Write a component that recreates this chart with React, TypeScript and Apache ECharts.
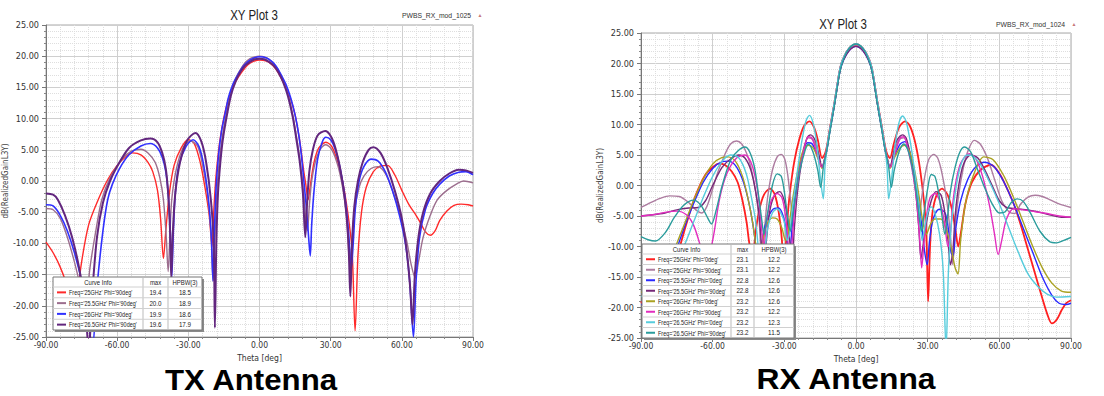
import React, { useEffect, useRef } from "react";
import * as echarts from "echarts";

// ---------- TX data (theta deg, dB) ----------
const txRed: [number, number][] = [[-90,-9.8],[-87,-11.5],[-84,-13.8],[-81,-17],[-79,-21],[-78,-22.5],[-77,-19],[-75,-13],[-72,-7],[-68,-3],[-64,0.2],[-60,2.5],[-56,4.0],[-53.5,4.5],[-50,4.2],[-47,3.0],[-45,1.5],[-43,-1.5],[-41.7,-6],[-40.5,-12.4],[-39.5,-8],[-38,-2],[-36,2.5],[-33,5.3],[-30,6.6],[-27.5,6.0],[-25,3.0],[-23,-1],[-21.2,-5.5],[-20,-10.5],[-19.3,-5],[-18.5,0],[-17.5,4],[-16.5,7],[-15,10.2],[-13,13.3],[-11,15.3],[-9,16.6],[-7,17.7],[-5,18.6],[-3,19.1],[0,19.4],[3,19.2],[5,18.7],[7,17.9],[9,16.6],[11,15.1],[13,13.3],[15,10.6],[16.5,7.5],[17.5,5],[18.5,2],[19.5,-0.5],[20.5,-3],[21.5,-0.5],[23,3],[25,5.3],[28,6.2],[30.5,5.5],[33,3.0],[35,0],[37,-4.5],[39,-11],[40.3,-24],[41.5,-12],[43,-5],[45,-1],[48,1.5],[51,2.4],[54,2.5],[57,1.0],[60,-1.5],[63,-3.8],[66,-5.5],[68,-6.8],[70,-8.2],[72,-8.7],[74,-8.0],[76,-6.3],[79,-4.8],[82,-3.9],[85,-3.7],[88,-3.8],[90,-4.0]];
const txMauve: [number, number][] = [[-90,-4.4],[-87,-4.6],[-84,-6],[-81,-9],[-78,-13],[-75.5,-17],[-73.5,-21],[-71.5,-14],[-69,-8],[-66.5,-3],[-63,0.5],[-58,3.5],[-54,4.8],[-50,5.1],[-47,4.5],[-44,3],[-42,0.5],[-40.5,-3],[-39.3,-9],[-38.5,-14.5],[-37.8,-9],[-37,-3],[-35,2],[-32,5.5],[-29,6.4],[-26,5.5],[-24,2.5],[-22,-2],[-20.5,-8],[-19.6,-16],[-18.8,-9],[-18,-2],[-17,3],[-15.5,7.5],[-14,10.8],[-12,14.3],[-10,16.5],[-8,17.9],[-6,19.0],[-4,19.6],[-2,19.9],[0,20.0],[2,19.9],[4,19.5],[6,18.8],[8,17.7],[10,16.1],[12,13.9],[14,10.6],[15.5,7.3],[17,3.5],[18.5,-1.5],[19.5,-6],[20.2,-8],[21,-4],[22,0],[23.5,3],[25.5,5],[28,5.8],[30.5,5.0],[33,2.5],[35,-1],[36.8,-6],[38,-13],[39,-10],[40,-5],[42,-1],[44,0.8],[47,2],[50,2.3],[53,1.2],[56,-1.5],[59,-5],[62,-9.5],[64,-13.5],[65.6,-15.5],[67,-13],[69,-9],[72,-5.5],[75,-3],[79,-1.5],[83,-0.5],[86,0],[90,-0.3]];
const txBlue: [number, number][] = [[-90,-3.8],[-87,-4.0],[-84,-5.5],[-81,-8],[-78,-11.5],[-75,-16],[-72.5,-21],[-70.5,-27],[-68.5,-17],[-66,-8],[-64,-3],[-62,-0.5],[-59,2],[-55,4.2],[-50,5.6],[-46,6.0],[-43,5.3],[-41,3.8],[-39.5,1.5],[-38.5,-2],[-37.6,-8],[-37,-15.5],[-36.3,-8],[-35.5,-2],[-34,2.5],[-31,5.5],[-28,6.6],[-25.5,5.5],[-23.5,2.5],[-21.5,-3],[-20.3,-9],[-19.6,-16],[-19,-8],[-18.3,-1],[-17.3,4],[-16,8],[-14.5,10.8],[-13,13.5],[-11,15.7],[-9,17.1],[-7,18.3],[-5,19.1],[-3,19.6],[0,19.9],[3,19.7],[5,19.2],[7,18.4],[9,17.1],[11,15.6],[13,13.5],[15,10.6],[16.5,7.5],[17.7,4],[18.7,0],[19.7,-4],[20.7,-9],[21.4,-12],[22,-7],[23,-1.5],[24.5,3.5],[26.5,6.3],[28,7.0],[30,6.6],[32,5],[34,2],[36,-2.5],[37.5,-8],[38.7,-14],[39.5,-10],[40.5,-4],[42,0],[44,2.3],[47,3.5],[50,3.2],[53,1.5],[56,-1.5],[59,-5.5],[61.5,-10],[63.3,-16],[64.9,-25],[66,-16],[67.5,-9],[70,-4.5],[73,-2],[76,-0.5],[80,0.8],[84,1.4],[87,1.5],[90,1.0]];
const txPurple: [number, number][] = [[-90,-2.0],[-87,-2.2],[-85,-3.0],[-82,-5.5],[-79,-9],[-76,-14],[-73.5,-20],[-72,-27],[-70.5,-18],[-68.5,-9],[-66,-3.5],[-63,0],[-59,3],[-55,5.3],[-50,6.5],[-46,6.8],[-43,6.2],[-41,4.5],[-39.5,2],[-38.5,-2],[-37.7,-8],[-37.2,-15.5],[-36.5,-8],[-35.5,-2],[-33.5,3],[-30.5,6.5],[-27,7.7],[-24.5,6.3],[-22.5,3],[-20.5,-3],[-19.3,-10],[-18.8,-23.5],[-18.2,-10],[-17.5,-2],[-16.5,3],[-15.5,6.5],[-14,10],[-12,13.8],[-10,16.0],[-8,17.5],[-6,18.5],[-4,19.1],[-2,19.5],[0,19.6],[2,19.5],[4,19.1],[6,18.5],[8,17.4],[10,15.8],[12,13.6],[14,10.3],[15.5,6.8],[17,3],[18.3,-2],[19.3,-9],[20,-4],[21,1.5],[22.5,5],[24.5,7.3],[27.7,8.0],[30,7.2],[32,5.3],[34,2],[36,-3],[37.5,-10],[38.3,-18.5],[39,-10],[40,-4],[41.5,0],[43.5,3],[46,5],[48,5.4],[51,4.5],[54,2],[57,-1.5],[60,-6],[62,-11],[63.5,-17],[64.5,-23],[65.5,-15],[67,-9],[69,-5],[72,-2],[76,0],[80,1.2],[84,1.8],[87,1.7],[90,1.3]];

// ---------- RX data (theta deg, dB) ----------
const rxRed: [number, number][] = [[-90,-19],[-86,-21.5],[-82,-22],[-79,-18.5],[-76,-13.5],[-73,-9],[-70,-5],[-67,-1.5],[-63,1.8],[-60,3.0],[-57.5,3.6],[-55,3.4],[-52,2.3],[-49.5,0.5],[-47.5,-2.5],[-45.8,-6],[-44.5,-9.8],[-43.2,-11],[-42,-7.5],[-40.5,-4],[-38.5,-1.5],[-36,-0.5],[-34,-1.5],[-32.3,-4.5],[-31,-9],[-30.2,-18],[-29.4,-10],[-28.4,-4],[-27.3,0],[-25.8,4],[-23.8,7.5],[-21.7,9.8],[-19.5,10.5],[-17.5,9.5],[-16,7.5],[-14.2,4.5],[-13,5.2],[-12,6.8],[-11,9.2],[-10,11.4],[-9,13.6],[-8,16.0],[-7,18.4],[-6,20.1],[-4,21.8],[-2,22.75],[0,23.1],[2,22.75],[4,21.8],[6,20.1],[7,18.4],[8,16.0],[9,13.6],[10,11.4],[11,9.2],[12,6.8],[13,5.2],[14.2,4.5],[15.8,6.8],[18,9.5],[20.5,10.5],[22.5,9.8],[24.5,7.5],[26.3,4],[27.7,0],[28.8,-4],[29.6,-10],[30.2,-19],[31,-10],[32,-4.5],[33.8,-1.5],[36,-0.5],[38.3,-1.5],[40.2,-4],[41.7,-7.5],[42.8,-10],[44,-7.5],[45.8,-3],[48.5,0.5],[52,2.5],[56.5,3.4],[60,2.0],[63,-0.3],[66,-3.0],[69,-6.5],[72,-10.5],[75,-14.5],[78,-18.5],[80,-21],[82,-22.6],[84,-22],[86,-20.5],[88,-19.3],[90,-18.8]];
const rxMauve: [number, number][] = [[-90,-3.6],[-86,-2.8],[-82,-2.1],[-78,-1.7],[-74,-1.8],[-70,-2.8],[-67,-4.0],[-64.5,-4.5],[-62.5,-3.5],[-60.5,-1.2],[-58,2.0],[-55,5.0],[-52.5,6.8],[-50,7.3],[-47.8,6.8],[-45.8,5.3],[-44,3.0],[-42,-1.0],[-40.5,-6],[-39.5,-12],[-38.5,-8],[-37,-2],[-35,2.5],[-33,4.7],[-31.3,5.1],[-29.8,4.3],[-28.5,1.5],[-27.5,-2],[-26.5,-5],[-25.5,-2],[-24,2.5],[-22,6.0],[-20,7.8],[-18,7.5],[-16,5.5],[-14.2,3.0],[-13,4.6],[-12,6.6],[-11,9.1],[-10,11.3],[-9,13.6],[-8,16.1],[-7,18.5],[-6,20.1],[-4,21.8],[-2,22.75],[0,23.1],[2,22.75],[4,21.8],[6,20.1],[7,18.5],[8,16.1],[9,13.6],[10,11.3],[11,9.1],[12,6.6],[13,4.6],[14.2,3.0],[16,5.5],[18,7.5],[20,7.8],[22,6.0],[24,2.5],[25.5,-2],[26.5,-5],[27.5,-2],[28.8,1.5],[30.5,4.3],[32.5,5.1],[34.2,4.5],[36,2.0],[38,-2.5],[39.5,-8],[40.5,-13],[41.5,-7],[43,-1.5],[45,3.0],[47,5.8],[49.5,7.4],[52,6.8],[55,4.5],[58,1.0],[61,-2.5],[64,-4.3],[66.5,-4.6],[69,-3.0],[72,-1.9],[75,-1.6],[78,-1.8],[81,-2.3],[85,-3.0],[90,-3.6]];
const rxBlue: [number, number][] = [[-90,-19.5],[-85,-19],[-80,-16],[-76,-11.5],[-72,-7],[-68,-3],[-64,0.5],[-60,2.8],[-56,3.9],[-53.5,4.0],[-50.5,3.3],[-47.5,1.0],[-45.3,-2],[-43.3,-6],[-41.7,-10.5],[-40.6,-12.5],[-39.5,-10],[-38,-6.5],[-35,-4],[-32.5,-3.7],[-30.5,-5],[-29,-8],[-28,-13],[-27,-8],[-25.8,-3],[-24.3,1],[-22.3,5],[-20.3,7.0],[-18.3,6.8],[-16.3,5.0],[-14.3,3.0],[-13,4.3],[-12,6.3],[-11,8.8],[-10,11.0],[-9,13.3],[-8,15.8],[-7,18.2],[-6,19.8],[-4,21.5],[-2,22.45],[0,22.8],[2,22.45],[4,21.5],[6,19.8],[7,18.2],[8,15.8],[9,13.3],[10,11.0],[11,8.8],[12,6.3],[13,4.3],[14.3,3.0],[16.3,5.0],[18.5,6.8],[20.5,7.2],[22.5,5.5],[24.5,2.0],[26,-2],[27.5,-6.5],[28.8,-11],[29.8,-13],[30.8,-9],[32.3,-5.5],[34.8,-3.9],[37.3,-4.5],[38.8,-7.5],[39.8,-11],[40.7,-11.5],[41.8,-7],[43.8,-2.5],[46.8,1.0],[50,3.0],[54,3.8],[58,3.0],[62,0.5],[66,-3],[70,-7],[74,-11],[78,-15],[82,-18],[85,-19.3],[88,-19.5],[90,-19.3]];
const rxPurple: [number, number][] = [[-90,-5.0],[-85,-4.8],[-80,-4.5],[-75,-4.0],[-70,-3.7],[-66,-3.6],[-63,-2.5],[-60,0],[-56,3.0],[-52,4.5],[-49,5.0],[-46.5,4.5],[-44,2.5],[-42,-1.0],[-40.5,-5],[-39.3,-11],[-38.3,-13],[-37.5,-9],[-36,-4],[-34,-1.5],[-32,-1.0],[-30,-2.5],[-28.5,-6],[-27.5,-10],[-26.7,-12],[-25.8,-7],[-24.5,-1],[-22.5,4.5],[-20.5,7.8],[-19,8.3],[-17,7.3],[-15.5,5.0],[-14.2,3.0],[-13,4.3],[-12,6.3],[-11,8.8],[-10,11.0],[-9,13.3],[-8,15.8],[-7,18.2],[-6,19.8],[-4,21.5],[-2,22.45],[0,22.8],[2,22.45],[4,21.5],[6,19.8],[7,18.2],[8,15.8],[9,13.3],[10,11.0],[11,8.8],[12,6.3],[13,4.3],[14.2,3.0],[15.5,5.0],[17,7.3],[19.5,8.3],[21,7.8],[23,4.5],[25,-1],[26.3,-7],[27.2,-12],[28,-10],[29.5,-6],[31.5,-2.5],[33.5,-1.0],[35.5,-1.5],[37,-4],[38.5,-9],[39.5,-13],[40.5,-11],[41.5,-5],[43,0],[45,3.5],[48,5.0],[51,4.5],[54,2.5],[57,0],[60,-2.5],[63,-3.6],[67,-3.8],[72,-4.0],[77,-4.4],[82,-4.9],[86,-5.2],[90,-5.2]];
const rxOlive: [number, number][] = [[-90,-17.5],[-85,-17],[-80,-14.5],[-76,-10.5],[-72,-6.5],[-68,-2.5],[-64,1.0],[-60,3.5],[-56,4.6],[-53.5,4.7],[-50.5,4.0],[-47.5,1.5],[-45.3,-2],[-43.3,-6],[-41.7,-10.5],[-40.4,-14],[-39.3,-10],[-37.5,-6.5],[-35,-5.3],[-33,-5.5],[-31,-7],[-29.5,-9],[-28.5,-8],[-27.5,-5],[-26,-1],[-24,3],[-22,5.8],[-20,6.6],[-18,6.2],[-16,4.5],[-14.2,2.8],[-13,4.6],[-12,6.6],[-11,9.1],[-10,11.4],[-9,13.7],[-8,16.2],[-7,18.6],[-6,20.2],[-4,21.9],[-2,22.85],[0,23.2],[2,22.85],[4,21.9],[6,20.2],[7,18.6],[8,16.2],[9,13.7],[10,11.4],[11,9.1],[12,6.6],[13,4.6],[14.2,2.8],[16,4.5],[18.5,6.2],[20.5,6.6],[22.5,5.5],[24.5,2.5],[26.5,-2],[28,-6],[29.5,-8],[31,-6.5],[33,-5.5],[35.5,-5.5],[38,-7.5],[40,-10.5],[41.5,-13.5],[42.7,-14.5],[43.8,-9],[45.8,-3],[49,1.5],[53.5,4.7],[57.5,4.2],[62,1.5],[66,-2],[70,-6],[74,-10],[78,-13.5],[82,-16],[86,-17.3],[90,-17.5]];
const rxMagenta: [number, number][] = [[-90,-5.0],[-85,-4.8],[-80,-4.4],[-75,-4.2],[-71,-4.8],[-68,-6.5],[-65,-10],[-62.5,-12.5],[-60,-9],[-57,-2],[-54,2],[-50,4.5],[-46.5,5.0],[-44,3.8],[-42,1.0],[-40.5,-3],[-39.3,-8],[-38.5,-10],[-37.5,-6],[-35.5,-2.5],[-33,-1.3],[-31,-2.0],[-29.5,-5],[-28.3,-10],[-27.5,-13.5],[-26.7,-9],[-25.5,-3],[-24,1.5],[-22,5.5],[-20,8.0],[-18.5,7.8],[-16.5,5.5],[-14.3,3.0],[-13,4.6],[-12,6.6],[-11,9.1],[-10,11.4],[-9,13.7],[-8,16.2],[-7,18.6],[-6,20.2],[-4,21.9],[-2,22.85],[0,23.2],[2,22.85],[4,21.9],[6,20.2],[7,18.6],[8,16.2],[9,13.7],[10,11.4],[11,9.1],[12,6.6],[13,4.6],[14.3,3.0],[16.5,5.5],[18.5,7.8],[20,8.0],[22,5.5],[24,1.5],[25.5,-3],[26.7,-9],[27.5,-13.5],[28.3,-10],[29.5,-5],[31,-2.0],[33,-1.3],[35,-2.5],[37,-6],[38.5,-10],[39.5,-8],[40.5,-3],[42,1.0],[44,3.8],[47.5,5.2],[50,4.5],[53,1.5],[56,-3.5],[58,-8],[59.5,-11.3],[61,-9],[63,-5.5],[66,-3.8],[70,-4.0],[75,-4.3],[80,-4.6],[85,-5.0],[90,-5.2]];
const rxCyan: [number, number][] = [[-90,-18.2],[-85,-18],[-80,-16.5],[-76,-13.5],[-72,-10],[-68,-6],[-64,-2],[-60,1.5],[-56,4.0],[-52.5,5.0],[-49,4.5],[-46,2.0],[-44,-1.5],[-42,-6],[-40.5,-12],[-39.3,-18],[-38.3,-12],[-37,-7],[-35,-4.5],[-33,-3.8],[-31.5,-4.5],[-30,-6],[-28.8,-9],[-27.8,-8],[-26.7,-4],[-25,1],[-23,6.5],[-21,10.5],[-19.5,11.5],[-18,10.3],[-16.5,7],[-15,1.5],[-13.7,-2.2],[-13,3.0],[-12,6.6],[-11,9.1],[-10,11.4],[-9,13.7],[-8,16.2],[-7,18.6],[-6,20.2],[-4,21.9],[-2,22.85],[0,23.2],[2,22.85],[4,21.9],[6,20.2],[7,18.6],[8,16.2],[9,13.7],[10,11.4],[11,9.1],[12,6.6],[13,3.0],[13.7,-2.2],[15,1.5],[16.5,7],[18,10.3],[19.5,11.4],[21,10.5],[23,6.5],[25,1.0],[26.5,-4],[27.7,-9],[28.7,-7],[30,-4.5],[31.5,-3.5],[33,-4.5],[35,-8],[36.5,-14],[37.7,-27],[38.7,-14],[40,-6],[42,0],[44,3.5],[46.5,5.0],[49,4.8],[52,3.5],[56,0.5],[60,-3],[64,-7],[68,-11],[72,-14.5],[76,-16.5],[80,-17.8],[84,-18.3],[90,-18.2]];
const rxTeal: [number, number][] = [[-90,-8.4],[-87,-8.9],[-84,-9.1],[-80,-7.8],[-76,-5.2],[-72,-3.2],[-68,-2.4],[-65,-3.2],[-62.5,-5.0],[-60.5,-6.3],[-58.5,-4],[-56,0],[-52,4.5],[-46.5,6.3],[-44.5,5.5],[-42.5,3],[-41,-1],[-39.5,-5.5],[-38.5,-8],[-37.2,-5],[-35,0],[-33,1.9],[-31.3,1.5],[-30,-1],[-28.5,-5.5],[-27.5,-7.5],[-26.5,-5],[-25,-1],[-23.5,2.5],[-21.5,5.5],[-20,6.8],[-18,5.5],[-16,2.5],[-14.8,-0.3],[-13.5,3.5],[-12,6.2],[-11,8.6],[-10,10.9],[-9,13.2],[-8,15.7],[-7,18.1],[-6,19.8],[-4,21.8],[-2,22.85],[0,23.2],[2,22.85],[4,21.8],[6,19.8],[7,18.1],[8,15.7],[9,13.2],[10,10.9],[11,8.6],[12,6.2],[13.5,3.5],[14.8,-0.3],[16,2.5],[18,5.5],[20,6.8],[22,5.5],[24,2.0],[25.5,-2],[26.7,-6],[27.5,-7.5],[28.5,-4.5],[30,-0.5],[31.5,1.8],[33,1.5],[34.5,-1],[36,-5],[37.2,-8],[38.2,-5.5],[39.5,-1],[41.5,3],[43.5,5.5],[45.5,6.3],[48,5.5],[51,2.5],[54,-0.5],[57,-3],[60,-4.5],[62.5,-4.3],[65,-2.8],[67.5,-2.2],[70,-2.6],[73,-4.5],[77,-7.5],[81,-9.2],[84,-9.4],[87,-9.0],[90,-8.5]];

// ---------- legend tables ----------
const txNames = ["Freq='25GHz' Phi='90deg'", "Freq='25.5GHz' Phi='90deg'", "Freq='26GHz' Phi='90deg'", "Freq='26.5GHz' Phi='90deg'"];
const txMax = ["19.4", "20.0", "19.9", "19.6"];
const txHpbw = ["18.5", "18.9", "18.6", "17.9"];
const rxNames = ["Freq='25GHz' Phi='0deg'", "Freq='25GHz' Phi='90deg'", "Freq='25.5GHz' Phi='0deg'", "Freq='25.5GHz' Phi='90deg'", "Freq='26GHz' Phi='0deg'", "Freq='26GHz' Phi='90deg'", "Freq='26.5GHz' Phi='0deg'", "Freq='26.5GHz' Phi='90deg'"];
const rxMax = ["23.1", "23.1", "22.8", "22.8", "23.2", "23.2", "23.2", "23.2"];
const rxHpbw = ["12.2", "12.2", "12.6", "12.6", "12.6", "12.2", "12.3", "11.5"];

const txColors = ["#ff2a2a", "#9c6e8e", "#3030ff", "#62267e"];
const txWidths = [1.4, 1.4, 1.6, 2];
const rxColors = ["#ff2020", "#ad7ca0", "#2a2aff", "#762878", "#aaa222", "#e22cbe", "#56ccdc", "#2a9c9c"];
const rxWidths = [1.8, 1.4, 1.4, 1.4, 1.4, 1.4, 1.4, 1.4];

const NARROW = "'Liberation Sans Narrow', 'DejaVu Sans Condensed', 'Liberation Sans', sans-serif";
const SANS = "'Liberation Sans', Arial, sans-serif";

function xAxisFor(i: number) {
  return {
    type: "value", gridIndex: i, min: -90, max: 90, interval: 30,
    name: "Theta [deg]", nameLocation: "middle", nameGap: 13,
    nameTextStyle: { fontSize: 8.5, fontFamily: NARROW, color: "#333", lineHeight: 9 },
    axisLine: { show: true, onZero: false, lineStyle: { color: "#777" } },
    axisTick: { show: true, inside: false, length: 4, lineStyle: { color: "#777" } },
    minorTick: { show: true, splitNumber: 5, length: 2, lineStyle: { color: "#888" } },
    axisLabel: { formatter: (v: number) => v.toFixed(2), fontSize: 8.5, fontFamily: NARROW, color: "#333", margin: 3, lineHeight: 9 },
    splitLine: { show: true, lineStyle: { color: "#cfcfcf", width: 1 } },
    minorSplitLine: { show: true, lineStyle: { color: "#dedede", type: "dotted" } },
  };
}
function yAxisFor(i: number, gap: number) {
  return {
    type: "value", gridIndex: i, min: -25, max: 25, interval: 5,
    name: "dB(RealizedGainL3Y)", nameLocation: "middle", nameGap: gap,
    nameTextStyle: { fontSize: 8, fontFamily: NARROW, color: "#444" },
    axisLine: { show: true, onZero: false, lineStyle: { color: "#777" } },
    axisTick: { show: true, inside: false, length: 4, lineStyle: { color: "#777" } },
    minorTick: { show: true, splitNumber: 5, length: 2, lineStyle: { color: "#888" } },
    axisLabel: { formatter: (v: number) => v.toFixed(2), fontSize: 9, fontFamily: NARROW, color: "#333", margin: 7 },
    splitLine: { show: true, lineStyle: { color: "#cfcfcf", width: 1 } },
    minorSplitLine: { show: true, lineStyle: { color: "#dedede", type: "dotted" } },
  };
}

function lineSeries(name: string, data: [number, number][], idx: number, color: string, width: number) {
  return {
    name, type: "line", xAxisIndex: idx, yAxisIndex: idx, data,
    symbol: "none", showSymbol: false, smooth: 0.3, clip: true,
    lineStyle: { color, width }, emphasis: { disabled: true },
  };
}

function legendTable(x0: number, y0: number, w: number, headH: number, rowH: number, c1: number, c2: number,
  names: string[], maxes: string[], hpbws: string[], colors: string[], widths: number[]) {
  const h = headH + rowH * names.length;
  const els: any[] = [];
  els.push({ type: "rect", z: 100, shape: { x: x0 + 2, y: y0 + 2, width: w, height: h }, style: { fill: "#8a8a8a" } });
  els.push({ type: "rect", z: 101, shape: { x: x0, y: y0, width: w, height: h }, style: { fill: "#fff", stroke: "#777", lineWidth: 1 } });
  els.push({ type: "line", z: 102, shape: { x1: c1, y1: y0, x2: c1, y2: y0 + h }, style: { stroke: "#bbb", lineWidth: 1 } });
  els.push({ type: "line", z: 102, shape: { x1: c2, y1: y0, x2: c2, y2: y0 + h }, style: { stroke: "#bbb", lineWidth: 1 } });
  for (let r = 0; r < names.length; r++) {
    const yy = y0 + headH + rowH * r;
    els.push({ type: "line", z: 102, shape: { x1: x0, y1: yy, x2: x0 + w, y2: yy }, style: { stroke: "#d0d0d0", lineWidth: 1 } });
  }
  const tf = (t: string, x: number, y: number, align: string, sx: number) => ({
    type: "text", z: 103, x, y, scaleX: sx,
    style: { text: t, font: `7px ${SANS}`, fill: "#222", textAlign: align, textVerticalAlign: "middle" },
  });
  els.push(tf("Curve Info", (x0 + c1) / 2, y0 + headH / 2, "center", 0.85));
  els.push(tf("max", (c1 + c2) / 2, y0 + headH / 2, "center", 0.85));
  els.push(tf("HPBW(3)", (c2 + x0 + w) / 2, y0 + headH / 2, "center", 0.85));
  names.forEach((n, i) => {
    const yc = y0 + headH + rowH * i + rowH / 2;
    els.push({ type: "line", z: 103, shape: { x1: x0 + 4, y1: yc, x2: x0 + 13, y2: yc }, style: { stroke: colors[i], lineWidth: Math.max(2, widths[i]) } });
    els.push(tf(n, x0 + 16, yc, "left", 0.78));
    els.push(tf(maxes[i], (c1 + c2) / 2, yc, "center", 0.9));
    els.push(tf(hpbws[i], (c2 + x0 + w) / 2, yc, "center", 0.9));
  });
  return els;
}

const txSeriesData = [txRed, txMauve, txBlue, txPurple];
const rxSeriesData = [rxRed, rxMauve, rxBlue, rxPurple, rxOlive, rxMagenta, rxCyan, rxTeal];

function buildOption() {
  const series: any[] = [];
  txSeriesData.forEach((d, i) => series.push(lineSeries("tx" + i, d, 0, txColors[i], txWidths[i])));
  rxSeriesData.forEach((d, i) => series.push(lineSeries("rx" + i, d, 1, rxColors[i], rxWidths[i])));

  const graphics: any[] = [
    { type: "text", z: 110, x: 254, y: 15, scaleX: 0.82, style: { text: "XY Plot 3", font: `14px ${SANS}`, fill: "#222", textAlign: "center", textVerticalAlign: "middle" } },
    { type: "text", z: 110, x: 471, y: 15, scaleX: 0.85, style: { text: "PWBS_RX_mod_1025", font: `8px ${SANS}`, fill: "#333", textAlign: "right", textVerticalAlign: "middle" } },
    { type: "text", z: 110, x: 480, y: 15, style: { text: "▲", font: `5px ${SANS}`, fill: "#c87a7a", textAlign: "center", textVerticalAlign: "middle" } },
    { type: "text", z: 110, x: 843, y: 24, scaleX: 0.82, style: { text: "XY Plot 3", font: `14px ${SANS}`, fill: "#222", textAlign: "center", textVerticalAlign: "middle" } },
    { type: "text", z: 110, x: 1065, y: 24, scaleX: 0.85, style: { text: "PWBS_RX_mod_1024", font: `8px ${SANS}`, fill: "#333", textAlign: "right", textVerticalAlign: "middle" } },
    { type: "text", z: 110, x: 1074, y: 24, style: { text: "▲", font: `5px ${SANS}`, fill: "#c87a7a", textAlign: "center", textVerticalAlign: "middle" } },
    { type: "text", z: 110, x: 251, y: 379, scaleX: 1.04, style: { text: "TX Antenna", font: `bold 30px ${SANS}`, fill: "#000", textAlign: "center", textVerticalAlign: "middle" } },
    { type: "text", z: 110, x: 846, y: 379, scaleX: 1.06, style: { text: "RX Antenna", font: `bold 30px ${SANS}`, fill: "#000", textAlign: "center", textVerticalAlign: "middle" } },
    ...legendTable(53, 277, 149, 10, 10.75, 143, 168, txNames, txMax, txHpbw, txColors, txWidths),
    ...legendTable(642, 244, 152, 10, 10.5, 731, 754, rxNames, rxMax, rxHpbw, rxColors, rxWidths),
  ];

  return {
    animation: false,
    backgroundColor: "#ffffff",
    grid: [
      { left: 45, top: 25, width: 428, height: 312, show: true, borderColor: "#a8a8a8", borderWidth: 1, backgroundColor: "#fff" },
      { left: 641, top: 33, width: 430, height: 305, show: true, borderColor: "#a8a8a8", borderWidth: 1, backgroundColor: "#fff" },
    ],
    xAxis: [xAxisFor(0), xAxisFor(1)],
    yAxis: [yAxisFor(0, 37), yAxisFor(1, 30)],
    series,
    graphic: graphics,
  };
}

export default function App() {
  const ref = useRef<HTMLDivElement>(null);
  useEffect(() => {
    if (!ref.current) return;
    const chart = echarts.init(ref.current, null, { renderer: "svg" });
    chart.setOption(buildOption() as any);
    return () => chart.dispose();
  }, []);
  return <div ref={ref} style={{ position: "fixed", left: 0, top: 0, width: 1104, height: 396, background: "#fff" }} />;
}
